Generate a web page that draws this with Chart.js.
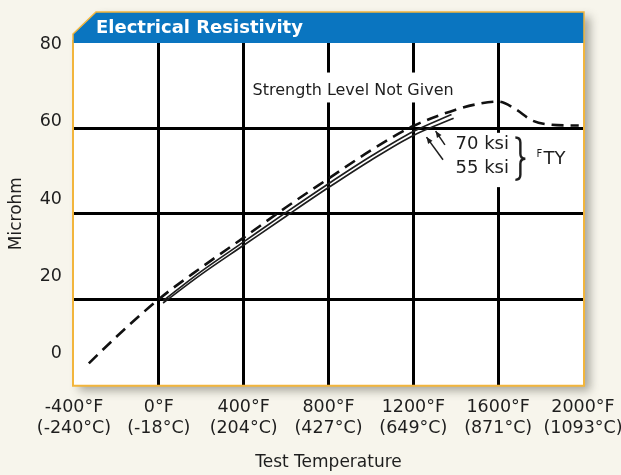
<!DOCTYPE html>
<html>
<head>
<meta charset="utf-8">
<script src="https://cdn.jsdelivr.net/npm/chart.js@4.4.1/dist/chart.umd.min.js"></script>
<style>
  html, body { margin: 0; padding: 0; background: #f7f5ec; }
  canvas { display: block; }
</style>
</head>
<body>
<canvas id="chart" width="621" height="475"></canvas>
<script>
// axis ticks
const tempF = [-400, 0, 400, 800, 1200, 1600, 2000]
const tempC = [-240, -18, 204, 427, 649, 871, 1093]
const microhmTicks = [0, 20, 40, 60, 80]

// strength level not given (dashed)
const notGivenF = [-330, -200, 0, 200, 400, 600, 800, 1000, 1200, 1400, 1500, 1600, 1680, 1760, 1850, 1980]
const notGivenY = [5, 11.2, 20, 27.4, 34.4, 41.5, 48.2, 54.8, 60.5, 64.3, 65.6, 66.2, 64.5, 61.8, 60.8, 60.6]

// 70 ksi FTY
const ksi70F = [20, 200, 400, 600, 800, 1000, 1200, 1380]
const ksi70Y = [19.6, 26.5, 33.4, 40.3, 47.0, 53.4, 59.2, 63.2]

// 55 ksi FTY
const ksi55F = [20, 200, 400, 600, 800, 1000, 1200, 1390]
const ksi55Y = [19.1, 25.8, 32.6, 39.4, 46.1, 52.5, 58.3, 62.3]

const pts = (xs, ys) => xs.map((x, i) => ({ x: x, y: ys[i] }))

Chart.defaults.font.family = '"DejaVu Sans", "Liberation Sans", sans-serif'
Chart.defaults.color = '#1e1e1e'

const ORANGE = '#f2b53c'
const BLUE = '#0a75c0'

// white panel, header bar, labels and arrows
const frame = {
  id: 'frame',
  beforeDraw(chart) {
    const { ctx, chartArea: a, width, height } = chart
    ctx.save()
    ctx.fillStyle = '#f7f5ec'
    ctx.fillRect(0, 0, width, height)
    ctx.shadowColor = 'rgba(70,70,60,0.45)'
    ctx.shadowBlur = 10
    ctx.shadowOffsetX = 6
    ctx.shadowOffsetY = 5
    ctx.fillStyle = '#fff'
    ctx.beginPath()
    ctx.moveTo(a.left + 22, 12)
    ctx.lineTo(a.right + 1, 12)
    ctx.lineTo(a.right + 1, a.bottom + 1)
    ctx.lineTo(a.left - 1, a.bottom + 1)
    ctx.lineTo(a.left - 1, 34)
    ctx.closePath()
    ctx.fill()
    ctx.restore()
  },
  beforeDatasetsDraw(chart) {
    const { ctx, scales: { x, y } } = chart
    ctx.save()
    ctx.fillStyle = '#fff'
    // gaps in the grid behind the text
    const gap = (f0, f1, v0, v1) => {
      const x0 = x.getPixelForValue(f0), x1 = x.getPixelForValue(f1)
      const y0 = y.getPixelForValue(v0), y1 = y.getPixelForValue(v1)
      ctx.fillRect(x0, y0, x1 - x0, y1 - y0)
    }
    gap(415, 1418, 73, 66)
    gap(1376, 1970, 58.9, 46.2)
    ctx.restore()
  },
  afterDatasetsDraw(chart) {
    const { ctx, scales: { x, y } } = chart
    const px = v => x.getPixelForValue(v)
    const py = v => y.getPixelForValue(v)
    ctx.save()
    ctx.fillStyle = '#1e1e1e'
    ctx.textBaseline = 'middle'
    ctx.font = '16px "DejaVu Sans"'
    ctx.textAlign = 'center'
    ctx.fillText('Strength Level Not Given', px(916), py(68.8))

    ctx.textAlign = 'left'
    ctx.font = '18px "DejaVu Sans"'
    ctx.fillText('70 ksi', px(1399), py(56.2))
    ctx.fillText('55 ksi', px(1399), py(50.5))
    ctx.fillText('TY', px(1814), py(52.6))
    ctx.font = '10px "DejaVu Sans"'
    ctx.fillText('F', px(1781), py(53.9))

    // brace
    const bx = px(1700), top = py(57.8), bot = py(47.9), mid = (top + bot) / 2
    ctx.strokeStyle = '#1e1e1e'
    ctx.lineWidth = 2.4
    ctx.beginPath()
    ctx.moveTo(bx - 4, top)
    ctx.quadraticCurveTo(bx + 1, top, bx + 1, top + 5)
    ctx.lineTo(bx + 1, mid - 5)
    ctx.quadraticCurveTo(bx + 1, mid, bx + 6, mid)
    ctx.quadraticCurveTo(bx + 1, mid, bx + 1, mid + 5)
    ctx.lineTo(bx + 1, bot - 5)
    ctx.quadraticCurveTo(bx + 1, bot, bx - 4, bot)
    ctx.stroke()

    // arrows to the curves
    ctx.lineWidth = 1.5
    const arrow = (f0, v0, f1, v1) => {
      const x0 = px(f0), y0 = py(v0), x1 = px(f1), y1 = py(v1)
      const ang = Math.atan2(y1 - y0, x1 - x0)
      ctx.beginPath()
      ctx.moveTo(x0, y0)
      ctx.lineTo(x1, y1)
      ctx.stroke()
      ctx.beginPath()
      ctx.moveTo(x1, y1)
      ctx.lineTo(x1 - 7 * Math.cos(ang - 0.4), y1 - 7 * Math.sin(ang - 0.4))
      ctx.lineTo(x1 - 7 * Math.cos(ang + 0.4), y1 - 7 * Math.sin(ang + 0.4))
      ctx.closePath()
      ctx.fill()
    }
    arrow(1349, 56.1, 1305, 59.3)
    arrow(1340, 52.6, 1262, 57.9)
    ctx.restore()
  },
  afterDraw(chart) {
    const { ctx, chartArea: a } = chart
    ctx.save()
    ctx.strokeStyle = ORANGE
    ctx.lineWidth = 2
    ctx.beginPath()
    ctx.moveTo(a.left - 1, 40)
    ctx.lineTo(a.left - 1, a.bottom + 1)
    ctx.lineTo(a.right + 1, a.bottom + 1)
    ctx.lineTo(a.right + 1, 40)
    ctx.stroke()

    // header bar
    ctx.fillStyle = BLUE
    ctx.beginPath()
    ctx.moveTo(a.left + 22, 12)
    ctx.lineTo(a.right + 1, 12)
    ctx.lineTo(a.right + 1, 43)
    ctx.lineTo(a.left - 1, 43)
    ctx.lineTo(a.left - 1, 34)
    ctx.closePath()
    ctx.fill()
    ctx.lineWidth = 1.5
    ctx.beginPath()
    ctx.moveTo(a.left - 1, 43)
    ctx.lineTo(a.left - 1, 34)
    ctx.lineTo(a.left + 22, 12)
    ctx.lineTo(a.right + 1, 12)
    ctx.lineTo(a.right + 1, 43)
    ctx.stroke()

    ctx.fillStyle = '#fff'
    ctx.font = 'bold 18px "DejaVu Sans"'
    ctx.textBaseline = 'middle'
    ctx.textAlign = 'left'
    ctx.fillText('Electrical Resistivity', a.left + 22, 28)
    ctx.restore()
  }
}

const gridColor = (lo, hi) => c => (c.tick.value > lo && c.tick.value < hi) ? '#000' : 'rgba(0,0,0,0)'

new Chart(document.getElementById('chart'), {
  type: 'line',
  data: {
    datasets: [
      {
        label: 'Strength Level Not Given',
        data: pts(notGivenF, notGivenY),
        borderColor: '#111',
        borderWidth: 2.6,
        borderDash: [12, 7],
        pointRadius: 0,
        cubicInterpolationMode: 'monotone'
      },
      {
        label: '70 ksi',
        data: pts(ksi70F, ksi70Y),
        borderColor: '#1e1e1e',
        borderWidth: 1.7,
        pointRadius: 0,
        cubicInterpolationMode: 'monotone'
      },
      {
        label: '55 ksi',
        data: pts(ksi55F, ksi55Y),
        borderColor: '#1e1e1e',
        borderWidth: 1.7,
        pointRadius: 0,
        cubicInterpolationMode: 'monotone'
      }
    ]
  },
  options: {
    responsive: false,
    animation: false,
    layout: { padding: { top: 42.6, right: 38, left: 0, bottom: 0 } },
    plugins: { legend: { display: false }, tooltip: { enabled: false } },
    scales: {
      x: {
        type: 'linear',
        min: tempF[0],
        max: tempF[tempF.length - 1],
        afterBuildTicks: s => { s.ticks = tempF.map(v => ({ value: v })) },
        afterFit: s => { s.height = 90.3; s.paddingLeft = 0; s.paddingRight = 0 },
        grid: { color: gridColor(tempF[0], tempF[tempF.length - 1]), lineWidth: 3, drawTicks: false },
        border: { display: false },
        ticks: {
          autoSkip: false,
          maxRotation: 0,
          padding: 12,
          font: { size: 17.5 },
          callback: v => [v + '°F', '(' + tempC[tempF.indexOf(v)] + '°C)']
        },
        title: { display: true, text: 'Test Temperature', font: { size: 17 }, padding: { top: 0, bottom: 2 } }
      },
      y: {
        type: 'linear',
        position: 'left',
        min: 0,
        max: 80,
        afterBuildTicks: s => { s.ticks = microhmTicks.map(v => ({ value: v })) },
        afterFit: s => { s.width = 0; s.paddingTop = 0; s.paddingBottom = 0 },
        grid: { color: gridColor(0, 80), lineWidth: 3, drawTicks: false },
        border: { display: false },
        ticks: { display: false }
      },
      yl: {
        type: 'linear',
        position: 'left',
        min: -8,
        max: 80.5,
        afterBuildTicks: s => { s.ticks = microhmTicks.map(v => ({ value: v })) },
        afterFit: s => { s.width = 74; s.paddingTop = 0; s.paddingBottom = 0 },
        grid: { display: false, drawTicks: false },
        border: { display: false },
        ticks: { padding: 12, font: { size: 17.5 } },
        title: { display: true, text: 'Microhm', font: { size: 17 }, padding: { top: 6, bottom: 0 } }
      }
    }
  },
  plugins: [frame]
})
</script>
</body>
</html>
